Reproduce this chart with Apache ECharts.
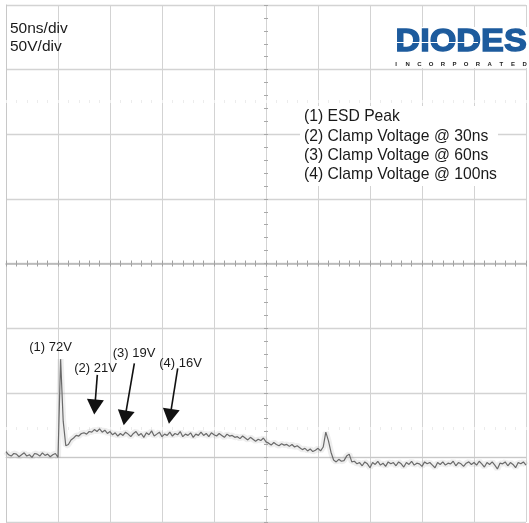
<!DOCTYPE html>
<html>
<head>
<meta charset="utf-8">
<script src="https://cdn.jsdelivr.net/npm/echarts@6/dist/echarts.min.js"></script>
<style>
html,body{margin:0;padding:0;background:#fff;}
#chart{width:529px;height:523px;}
</style>
</head>
<body>
<div id="chart"></div>
<script>
// Scope settings
const timeDivNs = 50;      // 50ns/div
const voltDiv = 50;        // 50V/div
const sampleNs = 2.5;      // sample spacing of the trace

// Captured trace (volts), one value per sample
const traceVolts = [
  4.5, 2, 1, 3, 2.5, 0.5, 2, 3.5, 1, 2, 0, 3, 2.5, 1, 3.5, 1.5, 2.5, 0.5, 2, 3, 0,
  76, 28, 9, 10, 13.5, 15, 17, 16.5, 18.5, 19, 18, 20, 19.5, 21.5, 20, 22, 19.5, 21, 18.5, 20,
  17.5, 19, 16.5, 18.5, 17, 19.5, 18, 16, 18.5, 20, 17, 18.5, 15.5, 19, 17.5, 20.5, 16.5, 18, 19.5, 16,
  18, 17, 19.5, 16.5, 18.5, 17.5, 20, 16, 18, 17, 19, 15.5, 18, 17, 19.5, 17, 18.5, 16, 19, 17.5,
  16.5, 18.5, 17, 15.5, 18, 16.5,
  17, 15.5, 16, 14.5, 16.5, 15, 13.5, 15.5, 14, 12.5, 14, 13, 15, 12,
  11, 9.5, 11.5, 10, 9, 10.5, 9.5, 10, 8.5, 10, 8, 9,
  7.5, 6, 7, 5, 6.5, 4.5, 5.5, 7, 5, 8,
  19.5, 13, 4, -2, -3.5, -1.5, -3, -2.5, 1, 2.5, -3.5,
  -3, -5, -4, -6.5, -3.5, -5, -8, -4, -5.5, -3, -6, -4.5, -7, -3.5, -5, -4, -6.5, -3.5, -5, -7.5,
  -4, -5.5, -3, -6, -4.5, -5, -7, -3.5, -5, -4, -6, -8, -4, -5.5, -3.5, -6, -4.5, -5, -3, -6.5,
  -4, -5, -7, -4.5, -3.5, -5.5, -4, -6, -3, -5, -7.5, -4, -5.5, -3.5, -6, -9, -4.5, -5, -3.5, -6.5,
  -4, -5.5, -8, -4, -5, -3.5, -6
];

// Annotation labels: [time ns, volts, text]
const annotationLabels = [
  [42.8, 85.0, '(1) 72V'],
  [86.1, 69.2, '(2) 21V'],
  [123.1, 80.8, '(3) 19V'],
  [167.8, 73.0, '(4) 16V']
];
// Annotation arrows: [startTime, startVolts, headTime, headVolts]
const annotationArrows = [
  [87.8, 63.8, 85.4, 39.0],
  [123.4, 72.8, 114.4, 30.5],
  [165.1, 68.9, 157.8, 31.7]
];
const legendLines = [
  '(1) ESD Peak',
  '(2) Clamp Voltage @ 30ns',
  '(3) Clamp Voltage @ 60ns',
  '(4) Clamp Voltage @ 100ns'
];
const scaleLabels = ['50ns/div', '50V/div'];

const tMin = 0, tMax = 10 * timeDivNs;
const vMin = -1 * voltDiv, vMax = 7 * voltDiv;
const traceData = traceVolts.map((v, i) => [i * sampleNs, v]);

const chart = echarts.init(document.getElementById('chart'));
const gridW = 520, gridH = 517;
const gridColor = '#d3d3d3';
const centerColor = '#b4b4b4';

function centerX(inside, offset, tickColor, showLine) {
  return {
    type: 'value', min: tMin, max: tMax, interval: timeDivNs,
    position: 'bottom', offset: offset,
    axisLine: {show: showLine, lineStyle: {color: centerColor, width: 1.5}},
    axisTick: {show: true, inside: inside, length: 3, lineStyle: {color: tickColor, width: 1}},
    minorTick: {show: true, splitNumber: 5, length: 3, lineStyle: {color: tickColor, width: 1}},
    axisLabel: {show: false}, splitLine: {show: false}
  };
}
function centerY(inside, offset) {
  return {
    type: 'value', min: vMin, max: vMax, interval: voltDiv,
    position: 'left', offset: offset,
    axisLine: {show: false},
    axisTick: {show: true, inside: inside, length: 2, lineStyle: {color: '#a8a8a8', width: 1.2}},
    minorTick: {show: true, splitNumber: 5, length: 2, lineStyle: {color: '#a8a8a8', width: 1.2}},
    axisLabel: {show: false}, splitLine: {show: false}
  };
}

const graphics = [];
scaleLabels.forEach((t, i) => {
  graphics.push({type: 'text', x: 10, y: 29 + i * 18, z: 40,
    style: {text: t, font: '15.5px "Liberation Sans", Arial, sans-serif', fill: '#1a1a1a', verticalAlign: 'middle'}});
});
// legend box (opaque, hides grid behind it)
graphics.push({type: 'rect', shape: {x: 300, y: 106, width: 198, height: 80}, style: {fill: '#fff'}, z: 39});
legendLines.forEach((t, i) => {
  graphics.push({type: 'text', x: 304, y: 117 + i * 19.3, z: 40,
    style: {text: t, font: '15.7px "Liberation Sans", Arial, sans-serif', fill: '#1a1a1a', verticalAlign: 'middle'}});
});
// DIODES logo
graphics.push({type: 'rect', shape: {x: 391, y: 27, width: 138, height: 41}, style: {fill: '#fff'}, z: 50});
graphics.push({type: 'text', x: 395.5, y: 42, scaleX: 1.07, originX: 0, originY: 0,
  style: {text: 'DIODES', font: 'bold 32px "Liberation Sans", Arial, sans-serif', fill: '#1d5b9d',
    stroke: '#1d5b9d', lineWidth: 1.4, verticalAlign: 'middle'}, z: 51});
graphics.push({type: 'line', shape: {x1: 397, y1: 42.5, x2: 478, y2: 42.5}, style: {stroke: '#fff', lineWidth: 1.2}, z: 52});
'INCORPORATED'.split('').forEach((c, i) => {
  graphics.push({type: 'text', x: 396 + i * 11.7, y: 64,
    style: {text: c, font: 'bold 6px "Liberation Sans", Arial, sans-serif', fill: '#222', verticalAlign: 'middle', align: 'center'}, z: 51});
});

chart.setOption({
  animation: false,
  backgroundColor: '#ffffff',
  grid: {left: 6, right: 3, top: 5, bottom: 1, containLabel: false},
  xAxis: [
    {type: 'value', min: tMin, max: tMax, interval: timeDivNs,
      axisLine: {show: true, lineStyle: {color: '#c8c8c8', width: 1}},
      axisTick: {show: false}, axisLabel: {show: false},
      splitLine: {show: true, lineStyle: {color: gridColor, width: 1}}},
    centerX(false, -gridH / 2, '#a0a0a0', true),
    centerX(true, -gridH / 2, '#a0a0a0', false),
    centerX(false, -(gridH - 95), '#ececec', false),
    centerX(false, -(gridH - 422), '#ececec', false)
  ],
  yAxis: [
    {type: 'value', min: vMin, max: vMax, interval: voltDiv,
      axisLine: {show: true, lineStyle: {color: '#c8c8c8', width: 1}},
      axisTick: {show: false}, axisLabel: {show: false},
      splitLine: {show: true, lineStyle: {color: gridColor, width: 1.4}}},
    centerY(false, -gridW / 2),
    centerY(true, -gridW / 2)
  ],
  series: [
    {type: 'line', data: traceData, xAxisIndex: 0, yAxisIndex: 0, showSymbol: false, silent: true,
      lineStyle: {color: 'rgba(150,150,150,0.16)', width: 6}, z: 2},
    {type: 'line', data: traceData, xAxisIndex: 0, yAxisIndex: 0, showSymbol: false, silent: true,
      lineStyle: {color: '#6a6a6a', width: 1.2}, z: 3,
      markLine: {
        silent: true, animation: false,
        symbol: ['none', 'triangle'], symbolSize: [17, 15],
        lineStyle: {color: '#111', width: 1.6, type: 'solid'},
        itemStyle: {color: '#111'},
        label: {show: false},
        data: annotationArrows.map(a => [{coord: [a[0], a[1]]}, {coord: [a[2], a[3]]}])
      },
      markPoint: {
        silent: true, animation: false, symbol: 'circle', symbolSize: 0,
        label: {show: true, position: 'inside', color: '#1a1a1a',
          fontFamily: '"Liberation Sans", Arial, sans-serif', fontSize: 13,
          formatter: p => p.data.text},
        data: annotationLabels.map(a => ({coord: [a[0], a[1]], text: a[2]}))
      }
    }
  ],
  graphic: graphics
});
</script>
</body>
</html>
